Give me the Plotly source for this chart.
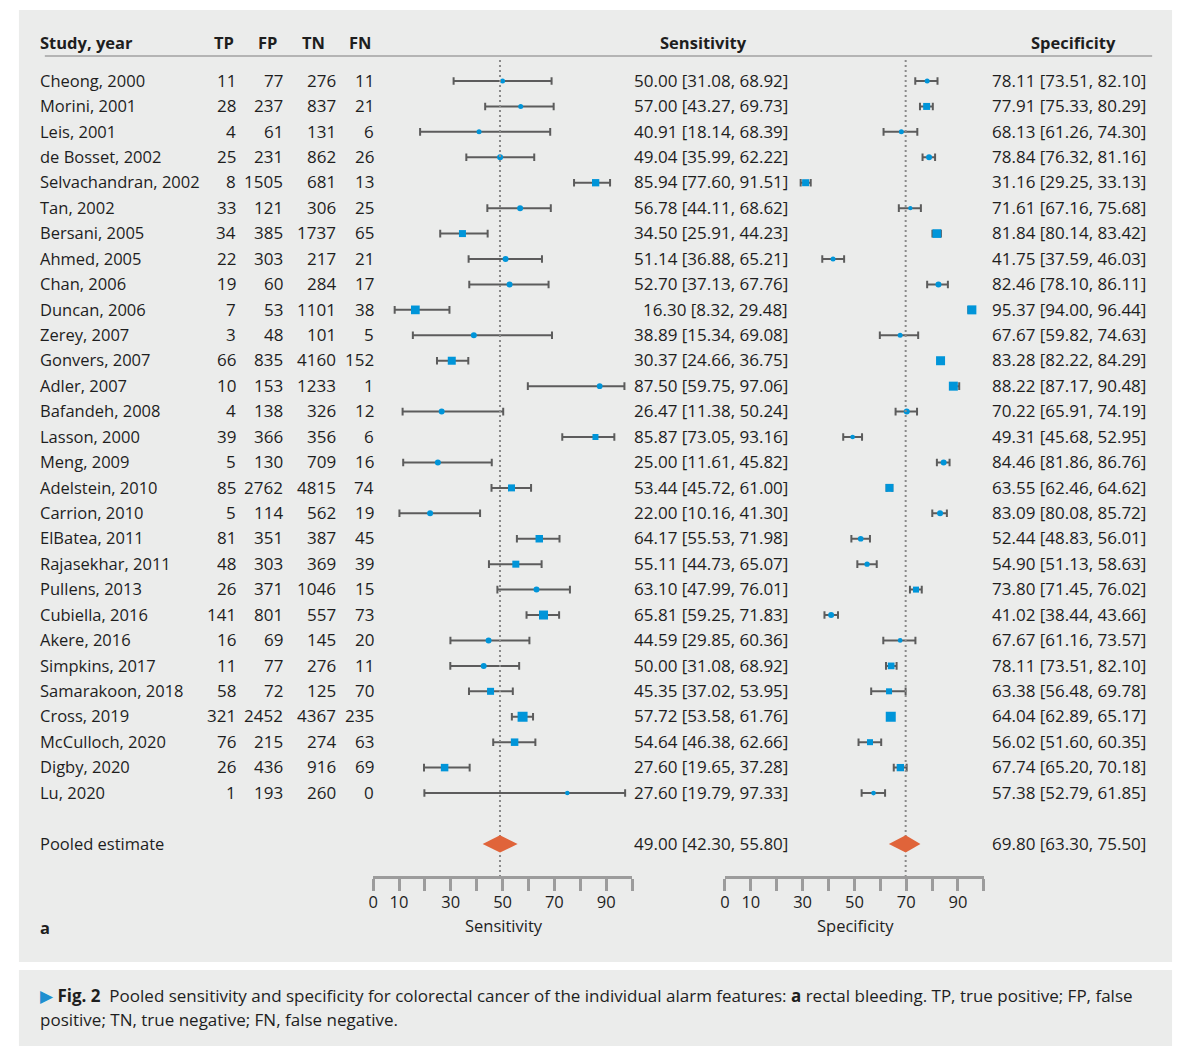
import plotly.graph_objects as go

# ---------------- data ----------------
studies = ["Cheong, 2000", "Morini, 2001", "Leis, 2001", "de Bosset, 2002", "Selvachandran, 2002",
           "Tan, 2002", "Bersani, 2005", "Ahmed, 2005", "Chan, 2006", "Duncan, 2006", "Zerey, 2007",
           "Gonvers, 2007", "Adler, 2007", "Bafandeh, 2008", "Lasson, 2000", "Meng, 2009",
           "Adelstein, 2010", "Carrion, 2010", "ElBatea, 2011", "Rajasekhar, 2011", "Pullens, 2013",
           "Cubiella, 2016", "Akere, 2016", "Simpkins, 2017", "Samarakoon, 2018", "Cross, 2019",
           "McCulloch, 2020", "Digby, 2020", "Lu, 2020"]
tp = [11, 28, 4, 25, 8, 33, 34, 22, 19, 7, 3, 66, 10, 4, 39, 5, 85, 5, 81, 48, 26, 141, 16, 11, 58, 321, 76, 26, 1]
fp = [77, 237, 61, 231, 1505, 121, 385, 303, 60, 53, 48, 835, 153, 138, 366, 130, 2762, 114, 351, 303, 371,
      801, 69, 77, 72, 2452, 215, 436, 193]
tn = [276, 837, 131, 862, 681, 306, 1737, 217, 284, 1101, 101, 4160, 1233, 326, 356, 709, 4815, 562, 387, 369,
      1046, 557, 145, 276, 125, 4367, 274, 916, 260]
fn = [11, 21, 6, 26, 13, 25, 65, 21, 17, 38, 5, 152, 1, 12, 6, 16, 74, 19, 45, 39, 15, 73, 20, 11, 70, 235, 63, 69, 0]

sens = [50.00, 57.00, 40.91, 49.04, 85.94, 56.78, 34.50, 51.14, 52.70, 16.30, 38.89, 30.37, 87.50, 26.47, 85.87,
        25.00, 53.44, 22.00, 64.17, 55.11, 63.10, 65.81, 44.59, 50.00, 45.35, 57.72, 54.64, 27.60, 27.60]
sens_lo = [31.08, 43.27, 18.14, 35.99, 77.60, 44.11, 25.91, 36.88, 37.13, 8.32, 15.34, 24.66, 59.75, 11.38, 73.05,
           11.61, 45.72, 10.16, 55.53, 44.73, 47.99, 59.25, 29.85, 31.08, 37.02, 53.58, 46.38, 19.65, 19.79]
sens_hi = [68.92, 69.73, 68.39, 62.22, 91.51, 68.62, 44.23, 65.21, 67.76, 29.48, 69.08, 36.75, 97.06, 50.24, 93.16,
           45.82, 61.00, 41.30, 71.98, 65.07, 76.01, 71.83, 60.36, 68.92, 53.95, 61.76, 62.66, 37.28, 97.33]

spec = [78.11, 77.91, 68.13, 78.84, 31.16, 71.61, 81.84, 41.75, 82.46, 95.37, 67.67, 83.28, 88.22, 70.22, 49.31,
        84.46, 63.55, 83.09, 52.44, 54.90, 73.80, 41.02, 67.67, 78.11, 63.38, 64.04, 56.02, 67.74, 57.38]
spec_lo = [73.51, 75.33, 61.26, 76.32, 29.25, 67.16, 80.14, 37.59, 78.10, 94.00, 59.82, 82.22, 87.17, 65.91, 45.68,
           81.86, 62.46, 80.08, 48.83, 51.13, 71.45, 38.44, 61.16, 73.51, 56.48, 62.89, 51.60, 65.20, 52.79]
spec_hi = [82.10, 80.29, 74.30, 81.16, 33.13, 75.68, 83.42, 46.03, 86.11, 96.44, 74.63, 84.29, 90.48, 74.19, 52.95,
           86.76, 64.62, 85.72, 56.01, 58.63, 76.02, 43.66, 73.57, 82.10, 69.78, 65.17, 60.35, 70.18, 61.85]

# The printed table repeats some values; the source figure plots these rows here instead
sens_plot_override = {"Simpkins, 2017": (42.7, 29.8, 56.4), "Lu, 2020": (75.0, 19.79, 97.33)}
spec_plot_override = {"Simpkins, 2017": (64.2, 62.2, 66.3)}

pooled_label = "Pooled estimate"
pooled_sens = (49.00, 42.30, 55.80)
pooled_spec = (69.80, 63.30, 75.50)

tick_vals = [0, 10, 20, 30, 40, 50, 60, 70, 80, 90, 100]
tick_text = ["0", "10", "", "30", "", "50", "", "70", "", "90", ""]

headers = ["Study, year", "TP", "FP", "TN", "FN", "Sensitivity", "Specificity"]
caption_1 = ("<span style='color:#1f8fd0'>▶</span> <b>Fig. 2</b>  Pooled sensitivity and specificity for colorectal "
             "cancer of the individual alarm features: <b>a</b> rectal bleeding. TP, true positive; FP, false")
caption_2 = "positive; TN, true negative; FN, false negative."

# ---------------- styles (marker sizes / shapes) ----------------
sens_size = [5, 5, 5, 6, 7.3, 6, 7, 6, 6, 8.7, 6, 8, 5.7, 6, 6, 6, 7, 6, 7.5, 7, 6, 9, 6, 6, 7, 10, 7.5, 7.5, 4.5]
sens_shape = ["c", "c", "c", "c", "s", "c", "s", "c", "c", "s", "c", "s", "c", "c", "s",
              "c", "s", "c", "s", "s", "c", "s", "c", "c", "s", "s", "s", "s", "c"]
spec_size = [5, 7, 5, 6, 7, 4.2, 8.7, 5, 6, 9, 5, 9, 9, 6, 4.7, 6, 8, 6, 5.7, 5.3, 6, 6, 4.7, 6.7, 6, 10, 6, 7.3, 4.7]
spec_shape = ["c", "s", "c", "c", "s", "c", "s", "c", "c", "s", "c", "s", "s", "c", "c",
              "c", "s", "c", "c", "c", "s", "c", "c", "s", "s", "s", "s", "s", "c"]

BLUE = "#0095d9"
ORANGE = "#e0643a"
ERR = "#5c5c5c"
AXC = "#9c9c9c"
TXT = "#1e1e1e"
FONT = "Open Sans"
FS = 16.5
FS_NUM = 17

W, H = 1185, 1060
ROW0_PX, ROW_PX = 81.0, 25.43
SENS_PX = (369.7, 629.7)
SPEC_PX = (723.0, 983.0)
AXIS_PX = 877
LEFT_FIX = 7  # annotation left-anchor offset compensation


def row_of(px):
    return (px - ROW0_PX) / ROW_PX


def fx(px):
    return px / W


def fy(px):
    return 1 - px / H


rows = list(range(len(studies)))
pooled_row = len(studies) + 1

fig = go.Figure()


def add_panel(xaxis, est, lo, hi, override, sizes, shapes, pooled):
    e, l, h = [], [], []
    for name, a, b, c in zip(studies, est, lo, hi):
        a, b, c = override.get(name, (a, b, c))
        e.append(a)
        l.append(b)
        h.append(c)
    cap = 3.8 / ROW_PX
    wx, wy = [], []
    for r, b, c in zip(rows, l, h):
        wx += [b, c, None, b, b, None, c, c, None]
        wy += [r, r, None, r - cap, r + cap, None, r - cap, r + cap, None]
    fig.add_trace(go.Scatter(
        x=wx, y=wy, xaxis=xaxis, yaxis="y", mode="lines",
        line=dict(color=ERR, width=2), hoverinfo="skip", showlegend=False, cliponaxis=False))
    fig.add_trace(go.Scatter(
        x=e, y=rows, xaxis=xaxis, yaxis="y", mode="markers",
        marker=dict(size=sizes, color=BLUE, opacity=1,
                    symbol=["square" if s == "s" else "circle" for s in shapes],
                    line=dict(width=0)),
        showlegend=False, cliponaxis=False))
    # reference line at pooled estimate
    fig.add_trace(go.Scatter(
        x=[pooled[0], pooled[0]], y=[row_of(60), row_of(AXIS_PX)], xaxis=xaxis, yaxis="y",
        mode="lines", line=dict(color="#8a8a8a", width=2, dash="2px,3px"),
        hoverinfo="skip", showlegend=False, cliponaxis=False))
    hh = 8.7 / ROW_PX
    fig.add_trace(go.Scatter(
        x=[pooled[1], pooled[0], pooled[2], pooled[0], pooled[1]],
        y=[pooled_row, pooled_row - hh, pooled_row, pooled_row + hh, pooled_row],
        xaxis=xaxis, yaxis="y", mode="lines", fill="toself", fillcolor=ORANGE,
        line=dict(width=0, color=ORANGE), hoverinfo="skip", showlegend=False, cliponaxis=False))


add_panel("x", sens, sens_lo, sens_hi, sens_plot_override, sens_size, sens_shape, pooled_sens)
add_panel("x2", spec, spec_lo, spec_hi, spec_plot_override, spec_size, spec_shape, pooled_spec)

ann = []


def txt(x_px, row, s, anchor="right", bold=False, size=FS):
    if anchor == "left":
        x_px -= LEFT_FIX
    ann.append(dict(x=fx(x_px), y=row, xref="paper", yref="y", text=("<b>%s</b>" % s) if bold else s,
                    xanchor=anchor, yanchor="middle", showarrow=False, borderpad=0,
                    font=dict(family=FONT, size=size, color=TXT)))


# header
hdr_row = row_of(42)
txt(41, hdr_row, headers[0], "left", True)
for hx, ht in zip([220, 264, 310, 357, 701, 1073], headers[1:]):
    txt(hx, hdr_row, ht, "center", True)

for i, name in enumerate(studies):
    txt(41, i - 0.03, name, "left")
    txt(233, i - 0.03, str(tp[i]), size=FS_NUM)
    txt(280, i - 0.03, str(fp[i]), size=FS_NUM)
    txt(333, i - 0.03, str(tn[i]), size=FS_NUM)
    txt(372, i - 0.03, str(fn[i]), size=FS_NUM)
    txt(787, i - 0.03, "%.2f [%.2f, %.2f]" % (sens[i], sens_lo[i], sens_hi[i]), size=FS_NUM)
    txt(1147, i - 0.03, "%.2f [%.2f, %.2f]" % (spec[i], spec_lo[i], spec_hi[i]), size=FS_NUM)

txt(41, pooled_row, pooled_label, "left")
txt(787, pooled_row, "%.2f [%.2f, %.2f]" % pooled_sens, size=FS_NUM)
txt(1147, pooled_row, "%.2f [%.2f, %.2f]" % pooled_spec, size=FS_NUM)

# axis titles and panel letter
txt(501, row_of(925), "Sensitivity", "center")
txt(854, row_of(925), "Specificity", "center")
txt(41, row_of(927), "a", "left", True)

# caption
for cy, ct in [(995, caption_1), (1019, caption_2)]:
    ann.append(dict(x=fx(41 - LEFT_FIX), y=fy(cy), xref="paper", yref="paper", text=ct, xanchor="left",
                    yanchor="middle", showarrow=False, borderpad=0,
                    font=dict(family=FONT, size=17, color=TXT)))

shapes = [
    dict(type="rect", xref="paper", yref="paper", x0=fx(14), x1=fx(1172), y0=fy(962), y1=fy(10),
         fillcolor="#ebeceb", line=dict(width=0), layer="below"),
    dict(type="rect", xref="paper", yref="paper", x0=fx(14), x1=fx(1172), y0=fy(1046), y1=fy(970),
         fillcolor="#ebeceb", line=dict(width=0), layer="below"),
    dict(type="line", xref="paper", yref="paper", x0=fx(40), x1=fx(1152), y0=fy(56), y1=fy(56),
         line=dict(color="#b4b4b4", width=2), layer="below"),
]

axis_common = dict(range=[0, 100], anchor="free", position=fy(AXIS_PX), showgrid=False, zeroline=False,
                   showline=True, linecolor=AXC, linewidth=2.5, ticks="outside", ticklen=12, tickwidth=2.5,
                   tickcolor=AXC, tickvals=tick_vals, ticktext=tick_text, ticklabelstandoff=-3,
                   tickfont=dict(family=FONT, size=FS, color=TXT), fixedrange=True)

fig.update_layout(
    width=W, height=H, autosize=False, margin=dict(l=0, r=0, t=0, b=0, pad=0),
    paper_bgcolor="white", plot_bgcolor="rgba(0,0,0,0)",
    xaxis=dict(domain=[fx(SENS_PX[0]), fx(SENS_PX[1])], **axis_common),
    xaxis2=dict(domain=[fx(SPEC_PX[0]), fx(SPEC_PX[1])], **axis_common),
    yaxis=dict(domain=[0, 1], range=[row_of(H), row_of(0)], visible=False, fixedrange=True),
    annotations=ann, shapes=shapes, showlegend=False,
)

fig.write_html("out.html")
